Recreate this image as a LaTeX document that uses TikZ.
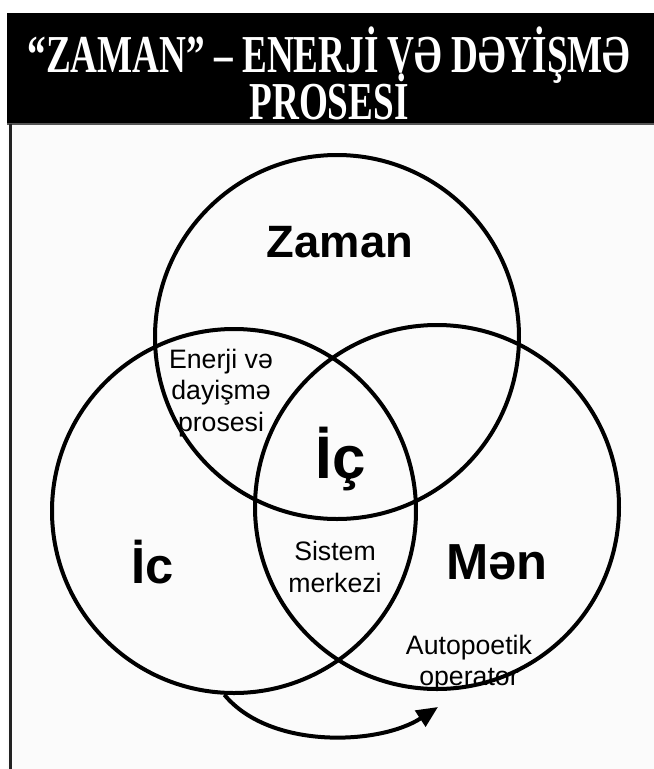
\documentclass[tikz,border=0pt]{standalone}
\usepackage{fontspec}
\setmainfont{Liberation Serif}
\setsansfont{Liberation Sans}
\usetikzlibrary{arrows.meta}
\definecolor{bgpanel}{HTML}{FBFBFB}
\definecolor{frameline}{HTML}{222222}
\definecolor{headline}{HTML}{555555}
\begin{document}
\begin{tikzpicture}[x=0.75pt,y=-0.75pt,
  venn/.style={draw=black, line width=3pt, circle, minimum size=273pt, inner sep=0pt},
  bigword/.style={font=\sffamily\bfseries\fontsize{34}{40}\selectfont, inner sep=0pt},
  smallword/.style={font=\sffamily\fontsize{20}{23.5}\selectfont, align=center, inner sep=0pt},
  titleword/.style={font=\bfseries\fontsize{40}{33}\selectfont, text=white, inner sep=0pt, align=center, anchor=base},
  flow/.style={line width=3pt, -{Triangle[length=16pt,width=14pt]}}]
\useasboundingbox (0,0) rectangle (654,769);
\fill[white] (0,0) rectangle (654,769);
\fill[bgpanel] (7,124) rectangle (654,769);
\fill[black] (7,13) rectangle (654,124);
\draw[headline, line width=1pt] (7,124) -- (654,124);
\draw[frameline, line width=1.9pt] (10.5,124) -- (10.5,769);
% title
\node[titleword] (title) at (329,119) {\scalebox{0.697}[1]{“ZAMAN” – ENERJİ VƏ DƏYİŞMƏ}\\[-9pt]\scalebox{0.697}[1]{PROSESİ}};
% circles
\node[venn] (top) at (337,337) {};
\node[venn] (left) at (234,511) {};
\node[venn] (right) at (437,507) {};
% labels
\node[bigword] (zaman) at (340,242) {Zaman};
\node[bigword, font=\sffamily\bfseries\fontsize{45}{50}\selectfont] (ic2) at (341,459) {İç};
\node[bigword, font=\sffamily\bfseries\fontsize{38}{44}\selectfont] (ic) at (153,562) {İc};
\node[bigword, font=\sffamily\bfseries\fontsize{38}{44}\selectfont] (men) at (497,562) {Mən};
\node[smallword] (energy) at (221,393) {Enerji və\\dayişmə\\prosesi};
\node[smallword] (system) at (335,567) {Sistem\\merkezi};
\node[smallword] (auto) at (469,663) {Autopoetik\\operator};
% arrow
\coordinate (arrowend) at (438,707);
\draw[flow] (left.-93) .. controls (270,750) and (380,745) .. (arrowend);
\end{tikzpicture}
\end{document}
